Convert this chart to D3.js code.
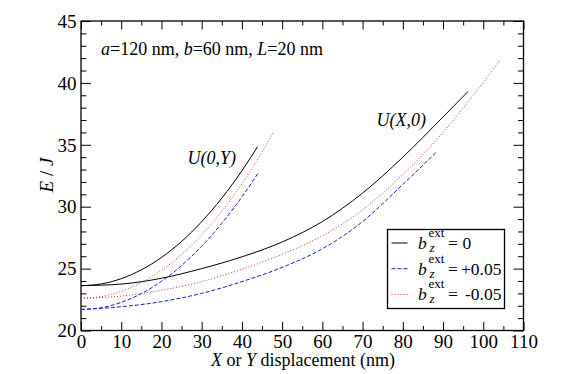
<!DOCTYPE html>
<html>
<head>
<meta charset="UTF-8">
<title>U(X,0) and U(0,Y)</title>
<script src="https://d3js.org/d3.v7.min.js"></script>
<style>
    body { margin: 0; background: #fff; }
    .frame { fill: none; stroke: #000; stroke-width: 1.3px; }
    .axis path { display: none; }
    .axis line { stroke: #000; stroke-width: 1px; }
    .curve { fill: none; stroke-width: 1px; }
</style>
</head>
<body>
<svg id="chart" width="571" height="374"></svg>
<script>
    // tick labels
    const xTicks = [0, 10, 20, 30, 40, 50, 60, 70, 80, 90, 100, 110];
    const yTicks = [20, 25, 30, 35, 40, 45];

    // U(X,0) curves, [displacement nm, E/J]
    const uX_zero  = [[0,23.62],[10,23.75],[20,24.22],[30,25.0],[40,25.95],[50,27.15],[60,28.8],[70,31.1],[80,34.0],[90,37.25],[96.2,39.3]];
    const uX_plus  = [[0,21.7],[10,21.92],[20,22.33],[30,23.0],[40,23.95],[50,25.1],[60,26.6],[70,28.8],[80,31.8],[88.2,34.36]];
    const uX_minus = [[0,22.6],[10,22.78],[20,23.25],[30,23.95],[40,24.95],[50,26.15],[60,27.65],[70,29.75],[80,32.6],[90,36.0],[96.3,38.5],[104.2,41.85]];

    // U(0,Y) curves
    const uY_zero  = [[0,23.62],[5,23.76],[10,24.19],[15,24.9],[20,25.9],[25,27.19],[30,28.79],[35,30.69],[40,32.9],[43.9,34.85]];
    const uY_plus  = [[0,21.7],[5,21.84],[10,22.27],[15,22.98],[20,23.97],[25,25.25],[30,26.81],[35,28.66],[40,30.79],[44.1,32.75]];
    const uY_minus = [[0,22.6],[5,22.74],[10,23.16],[15,23.87],[20,24.86],[25,26.14],[30,27.73],[35,29.63],[40,31.85],[45,34.41],[48,36.1]];

    const legendLabels = ["0", "+0.05", "-0.05"];

    const FONT = "'Liberation Serif'";
    const plotL = 81, plotR = 523.5, plotT = 21, plotB = 330.5;

    const svg = d3.select("#chart");

    const x = d3.scaleLinear().domain([0, 110]).range([plotL, plotR]);
    const y = d3.scaleLinear().domain([20, 45]).range([plotB, plotT]);

    const styles = {
        zero:  { stroke: "#000", dash: null },
        plus:  { stroke: "#2020c8", dash: "4,2" },
        minus: { stroke: "#d03030", dash: "1,2" }
    };

    // minor ticks
    const xMinor = d3.range(5, 110, 10);
    const yMinor = d3.range(21, 45, 1).filter(v => v % 5 !== 0);

    function axisGroup(axis, tx, ty) {
        const g = svg.append("g")
            .attr("class", "axis")
            .attr("transform", `translate(${tx},${ty})`)
            .call(axis)
            .attr("font-size", 19);
        g.selectAll("text").attr("font-family", FONT);
        return g;
    }

    const xb = axisGroup(d3.axisBottom(x).tickValues(xTicks).tickSize(-8.5).tickFormat(d3.format("d")), 0, plotB);
    xb.selectAll("text").attr("y", 17.5).attr("dy", 0).attr("fill", "#000");
    axisGroup(d3.axisBottom(x).tickValues(xMinor).tickSize(-4.5).tickFormat(""), 0, plotB);
    axisGroup(d3.axisTop(x).tickValues(xTicks).tickSize(-8.5).tickFormat(""), 0, plotT);
    axisGroup(d3.axisTop(x).tickValues(xMinor).tickSize(-4.5).tickFormat(""), 0, plotT);

    const yl = axisGroup(d3.axisLeft(y).tickValues(yTicks).tickSize(-10).tickFormat(d3.format("d")), plotL, 0);
    yl.selectAll("text").attr("x", -4.5).attr("dy", "0.33em").attr("fill", "#000");
    axisGroup(d3.axisLeft(y).tickValues(yMinor).tickSize(-5.5).tickFormat(""), plotL, 0);
    axisGroup(d3.axisRight(y).tickValues(yTicks).tickSize(-10).tickFormat(""), plotR, 0);
    axisGroup(d3.axisRight(y).tickValues(yMinor).tickSize(-5.5).tickFormat(""), plotR, 0);

    svg.append("rect").attr("class", "frame")
        .attr("x", plotL).attr("y", plotT)
        .attr("width", plotR - plotL).attr("height", plotB - plotT);

    const line = d3.line()
        .x(d => x(d[0]))
        .y(d => y(d[1]))
        .curve(d3.curveMonotoneX);

    const curves = [
        { data: uX_minus, s: "minus" }, { data: uX_plus, s: "plus" }, { data: uX_zero, s: "zero" },
        { data: uY_minus, s: "minus" }, { data: uY_plus, s: "plus" }, { data: uY_zero, s: "zero" }
    ];

    svg.selectAll(".curve")
        .data(curves)
        .enter().append("path")
        .attr("class", "curve")
        .attr("d", d => line(d.data))
        .attr("stroke", d => styles[d.s].stroke)
        .attr("stroke-dasharray", d => styles[d.s].dash);

    // text helper: parts = [[string, italic], ...]
    function label(px, py, parts, size, anchor) {
        const t = svg.append("text")
            .attr("x", px).attr("y", py)
            .attr("font-family", FONT)
            .attr("font-size", size)
            .attr("text-anchor", anchor || "start");
        parts.forEach(p => {
            t.append("tspan").text(p[0]).attr("font-style", p[1] ? "italic" : "normal");
        });
        return t;
    }

    label(101, 54.5, [["a", true], ["=120 nm, ", false], ["b", true], ["=60 nm, ", false], ["L", true], ["=20 nm", false]], 18);
    label(187.5, 164, [["U(0,Y)", true]], 18);
    label(376.5, 125.5, [["U(X,0)", true]], 18);
    label(303, 365.5, [["X", true], [" or ", false], ["Y", true], [" displacement (nm)", false]], 18, "middle");

    // y axis title
    const yt = svg.append("text")
        .attr("transform", "translate(53,175) rotate(-90)")
        .attr("font-family", FONT)
        .attr("font-size", 19)
        .attr("text-anchor", "middle");
    yt.append("tspan").text("E").attr("font-style", "italic");
    yt.append("tspan").text(" / ");
    yt.append("tspan").text("J").attr("font-style", "italic");

    // legend
    svg.append("rect")
        .attr("x", 387.5).attr("y", 229.5)
        .attr("width", 117).attr("height", 79)
        .attr("fill", "#fff").attr("stroke", "#000").attr("stroke-width", 1.3);

    const legendKeys = ["zero", "plus", "minus"];
    legendKeys.forEach((k, i) => {
        const ly = 243 + i * 25.7;
        svg.append("line")
            .attr("x1", 391.5).attr("x2", 407.5)
            .attr("y1", ly).attr("y2", ly)
            .attr("stroke", styles[k].stroke)
            .attr("stroke-dasharray", styles[k].dash);
        const yb = ly + 6;
        label(418, yb, [["b", true]], 17.5);
        label(428.5, yb - 12, [["ext", false]], 13);
        label(429.5, yb + 3, [["z", true]], 13);
        label(448, yb, [["=", false]], 17.5);
        if (i === 0) label(462.5, yb, [[legendLabels[i], false]], 17.5);
        else label(501.5, yb, [[legendLabels[i], false]], 17.5, "end");
    });
</script>
</body>
</html>
